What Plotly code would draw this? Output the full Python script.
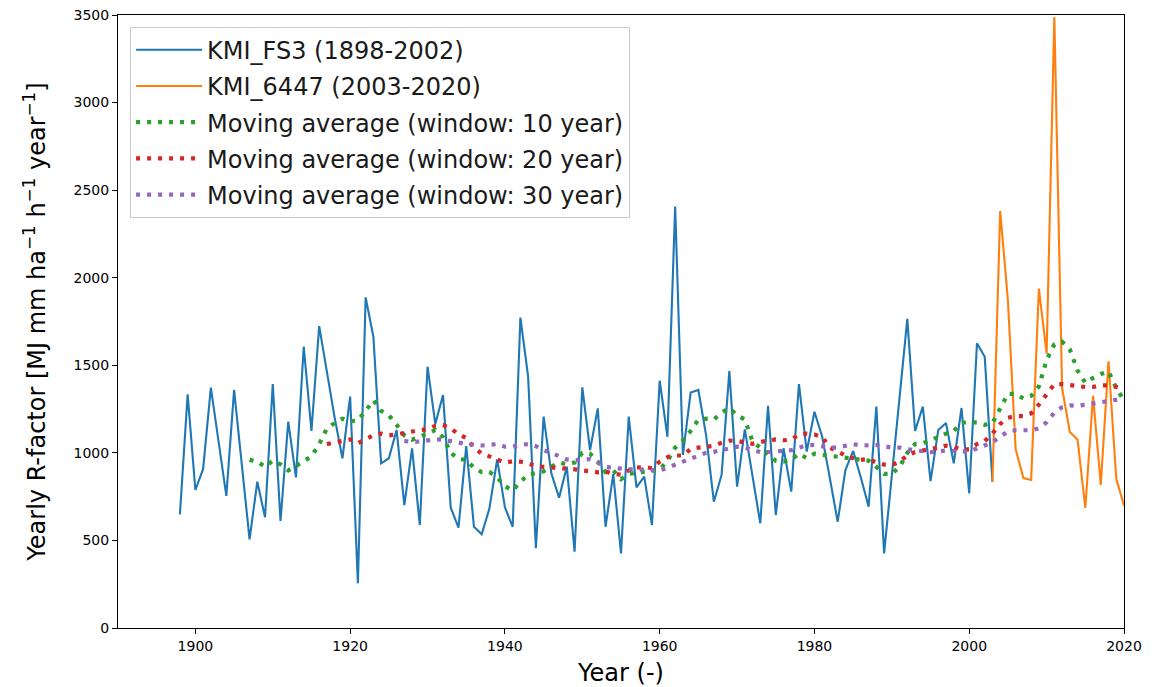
import plotly.graph_objects as go

# ---------------- data ----------------
fs3_years = list(range(1898, 2004))
fs3_values = [
    649, 1334, 788, 908, 1372, 1050, 754, 1359, 925, 506,        # 1898-1907
    835, 632, 1393, 611, 1178, 860, 1606, 1125, 1724, 1450,       # 1908-1917
    1200, 969, 1321, 255, 1888, 1663, 940, 969, 1131, 702,        # 1918-1927
    1026, 588, 1492, 1165, 1330, 687, 573, 1039, 578, 535,        # 1928-1937
    683, 963, 689, 578, 1772, 1435, 455, 1207, 883, 744,          # 1938-1947
    921, 436, 1374, 1016, 1254, 578, 879, 426, 1207, 803,         # 1948-1957
    864, 588, 1412, 1092, 2406, 988, 1344, 1359, 1100, 721,       # 1958-1967
    874, 1467, 807, 1134, 864, 598, 1268, 645, 1026, 779,         # 1968-1977
    1393, 1007, 1235, 1092, 853, 607, 902, 1011, 858, 693,        # 1978-1987
    1264, 426, 872, 1317, 1765, 1125, 1264, 839, 1131, 1170,      # 1988-1997
    940, 1256, 769, 1626, 1549, 834,                              # 1998-2003
]

k6447_years = list(range(2003, 2021))
k6447_values = [834, 2381, 1870, 1020, 856, 845, 1938, 1566, 3489, 1370,
                1119, 1075, 686, 1326, 817, 1523, 852, 699]

ma10_years = list(range(1907, 2021))
ma10_values = [
    960, 950, 920, 955, 935, 900, 925, 955, 980, 1050,            # 1907-1916
    1140, 1170, 1195, 1180, 1185, 1240, 1300, 1240, 1215, 1160,   # 1917-1926
    1100, 1075, 1090, 1110, 1130, 1090, 1000, 965, 960, 915,      # 1927-1936
    890, 890, 860, 810, 785, 835, 875, 885, 895, 920,             # 1937-1946
    945, 935, 945, 1000, 995, 950, 890, 900, 850, 880,            # 1947-1956
    885, 890, 895, 905, 955, 1030, 1070, 1125, 1190, 1195,        # 1957-1966
    1190, 1230, 1255, 1215, 1190, 1065, 1030, 995, 955, 950,      # 1967-1976
    960, 995, 970, 995, 990, 985, 975, 975, 970, 965,             # 1977-1986
    955, 920, 880, 880, 920, 1000, 1050, 1055, 1070, 1090,        # 1987-1996
    1110, 1125, 1170, 1178, 1172, 1160, 1170, 1260, 1337, 1337,   # 1997-2006
    1310, 1325, 1380, 1530, 1620, 1635, 1590, 1470, 1400, 1428,   # 2007-2016
    1450, 1465, 1370, 1300,                                       # 2017-2020
]

ma20_years = list(range(1917, 2021))
ma20_values = [
    1050, 1058, 1068, 1077, 1055, 1075, 1100, 1110, 1100, 1105,   # 1917-1926
    1115, 1125, 1130, 1135, 1155, 1158, 1140, 1105, 1085, 1032,   # 1927-1936
    995, 980, 960, 944, 952, 950, 940, 925, 920, 917,             # 1937-1946
    915, 910, 906, 900, 893, 889, 893, 880, 875, 900,             # 1947-1956
    915, 920, 912, 950, 975, 985, 985, 1022, 1030, 1037,          # 1957-1966
    1040, 1058, 1070, 1068, 1060, 1052, 1062, 1072, 1077, 1072,   # 1967-1976
    1075, 1104, 1110, 1105, 1090, 1030, 1005, 985, 970, 960,      # 1977-1986
    965, 945, 933, 931, 950, 985, 1005, 1012, 1018, 1030,         # 1987-1996
    1041, 1034, 1018, 1020, 1050, 1068, 1110, 1165, 1200, 1210,   # 1997-2006
    1210, 1225, 1275, 1330, 1392, 1392, 1387, 1380, 1376, 1376,   # 2007-2016
    1385, 1385, 1376, 1360,                                       # 2017-2020
]

ma30_years = list(range(1927, 2021))
ma30_values = [
    1068, 1062, 1065, 1073, 1077, 1075, 1069, 1059, 1050, 1045,   # 1927-1936
    1042, 1046, 1050, 1035, 1035, 1046, 1050, 1038, 1015, 1000,   # 1937-1946
    982, 962, 958, 963, 964, 945, 920, 914, 908, 906,             # 1947-1956
    906, 904, 902, 899, 915, 935, 950, 967, 985, 1000,            # 1957-1966
    1006, 1015, 1027, 1035, 1030, 1018, 1004, 1005, 1007, 1007,   # 1967-1976
    1015, 1030, 1043, 1045, 1038, 1030, 1030, 1043, 1050, 1042,   # 1977-1986
    1042, 1045, 1035, 1032, 1030, 1020, 1015, 1010, 1004, 1008,   # 1987-1996
    1013, 1010, 1007, 1007, 1025, 1045, 1060, 1092, 1122, 1129,   # 1997-2006
    1129, 1129, 1140, 1175, 1230, 1260, 1271, 1268, 1275, 1282,   # 2007-2016
    1287, 1298, 1307, 1310,                                       # 2017-2020
]

x_ticks = [1900, 1920, 1940, 1960, 1980, 2000, 2020]
y_ticks = [0, 500, 1000, 1500, 2000, 2500, 3000, 3500]

# ---------------- figure ----------------
FONT = "DejaVu Sans"
fig = go.Figure()

fig.add_trace(go.Scatter(x=fs3_years, y=fs3_values, mode="lines",
                         name="KMI_FS3 (1898-2002)", legendgroup="a",
                         line=dict(color="#1f77b4", width=2.1)))
fig.add_trace(go.Scatter(x=k6447_years, y=k6447_values, mode="lines",
                         name="KMI_6447 (2003-2020)", legendgroup="b",
                         line=dict(color="#ff7f0e", width=2.1)))
fig.add_trace(go.Scatter(x=ma10_years, y=ma10_values, mode="lines",
                         name="Moving average (window: 10 year)", legendgroup="c",
                         line=dict(color="#2ca02c", width=4.2, dash="4px,7px")))
fig.add_trace(go.Scatter(x=ma20_years, y=ma20_values, mode="lines",
                         name="Moving average (window: 20 year)", legendgroup="d",
                         line=dict(color="#d62728", width=4.2, dash="4px,7px")))
fig.add_trace(go.Scatter(x=ma30_years, y=ma30_values, mode="lines",
                         name="Moving average (window: 30 year)", legendgroup="e",
                         line=dict(color="#9467bd", width=4.2, dash="4px,7px")))

axis_common = dict(
    showline=True, linecolor="black", linewidth=1.1, mirror=True,
    ticks="outside", ticklen=5, tickwidth=1.1, tickcolor="black",
    showgrid=False, zeroline=False, automargin=False,
    tickfont=dict(family=FONT, size=14, color="black"),
)

fig.update_layout(
    width=1163, height=687,
    margin=dict(l=118, r=39, t=15, b=59),
    paper_bgcolor="white", plot_bgcolor="white",
    font=dict(family=FONT, color="black"),
    xaxis=dict(range=[1890, 2020], tickvals=x_ticks,
               title=dict(text="Year (-)", font=dict(family=FONT, size=24), standoff=20),
               **axis_common),
    yaxis=dict(range=[0, 3500], tickvals=y_ticks,
               title=dict(text="Yearly R-factor [MJ mm ha<sup>−1</sup> h<sup>−1</sup> year<sup>−1</sup>]",
                          font=dict(family=FONT, size=24), standoff=21),
               **axis_common),
    legend=dict(x=0.012, y=0.981, xanchor="left", yanchor="top",
                bgcolor="rgba(255,255,255,0.8)", bordercolor="#cccccc", borderwidth=1,
                font=dict(family=FONT, size=24, color="#1a1a1a"),
                tracegroupgap=2, itemwidth=66),
    showlegend=True,
)

fig.write_html("out.html", config={"displayModeBar": False},
               post_script="document.body.style.margin='0px';")
